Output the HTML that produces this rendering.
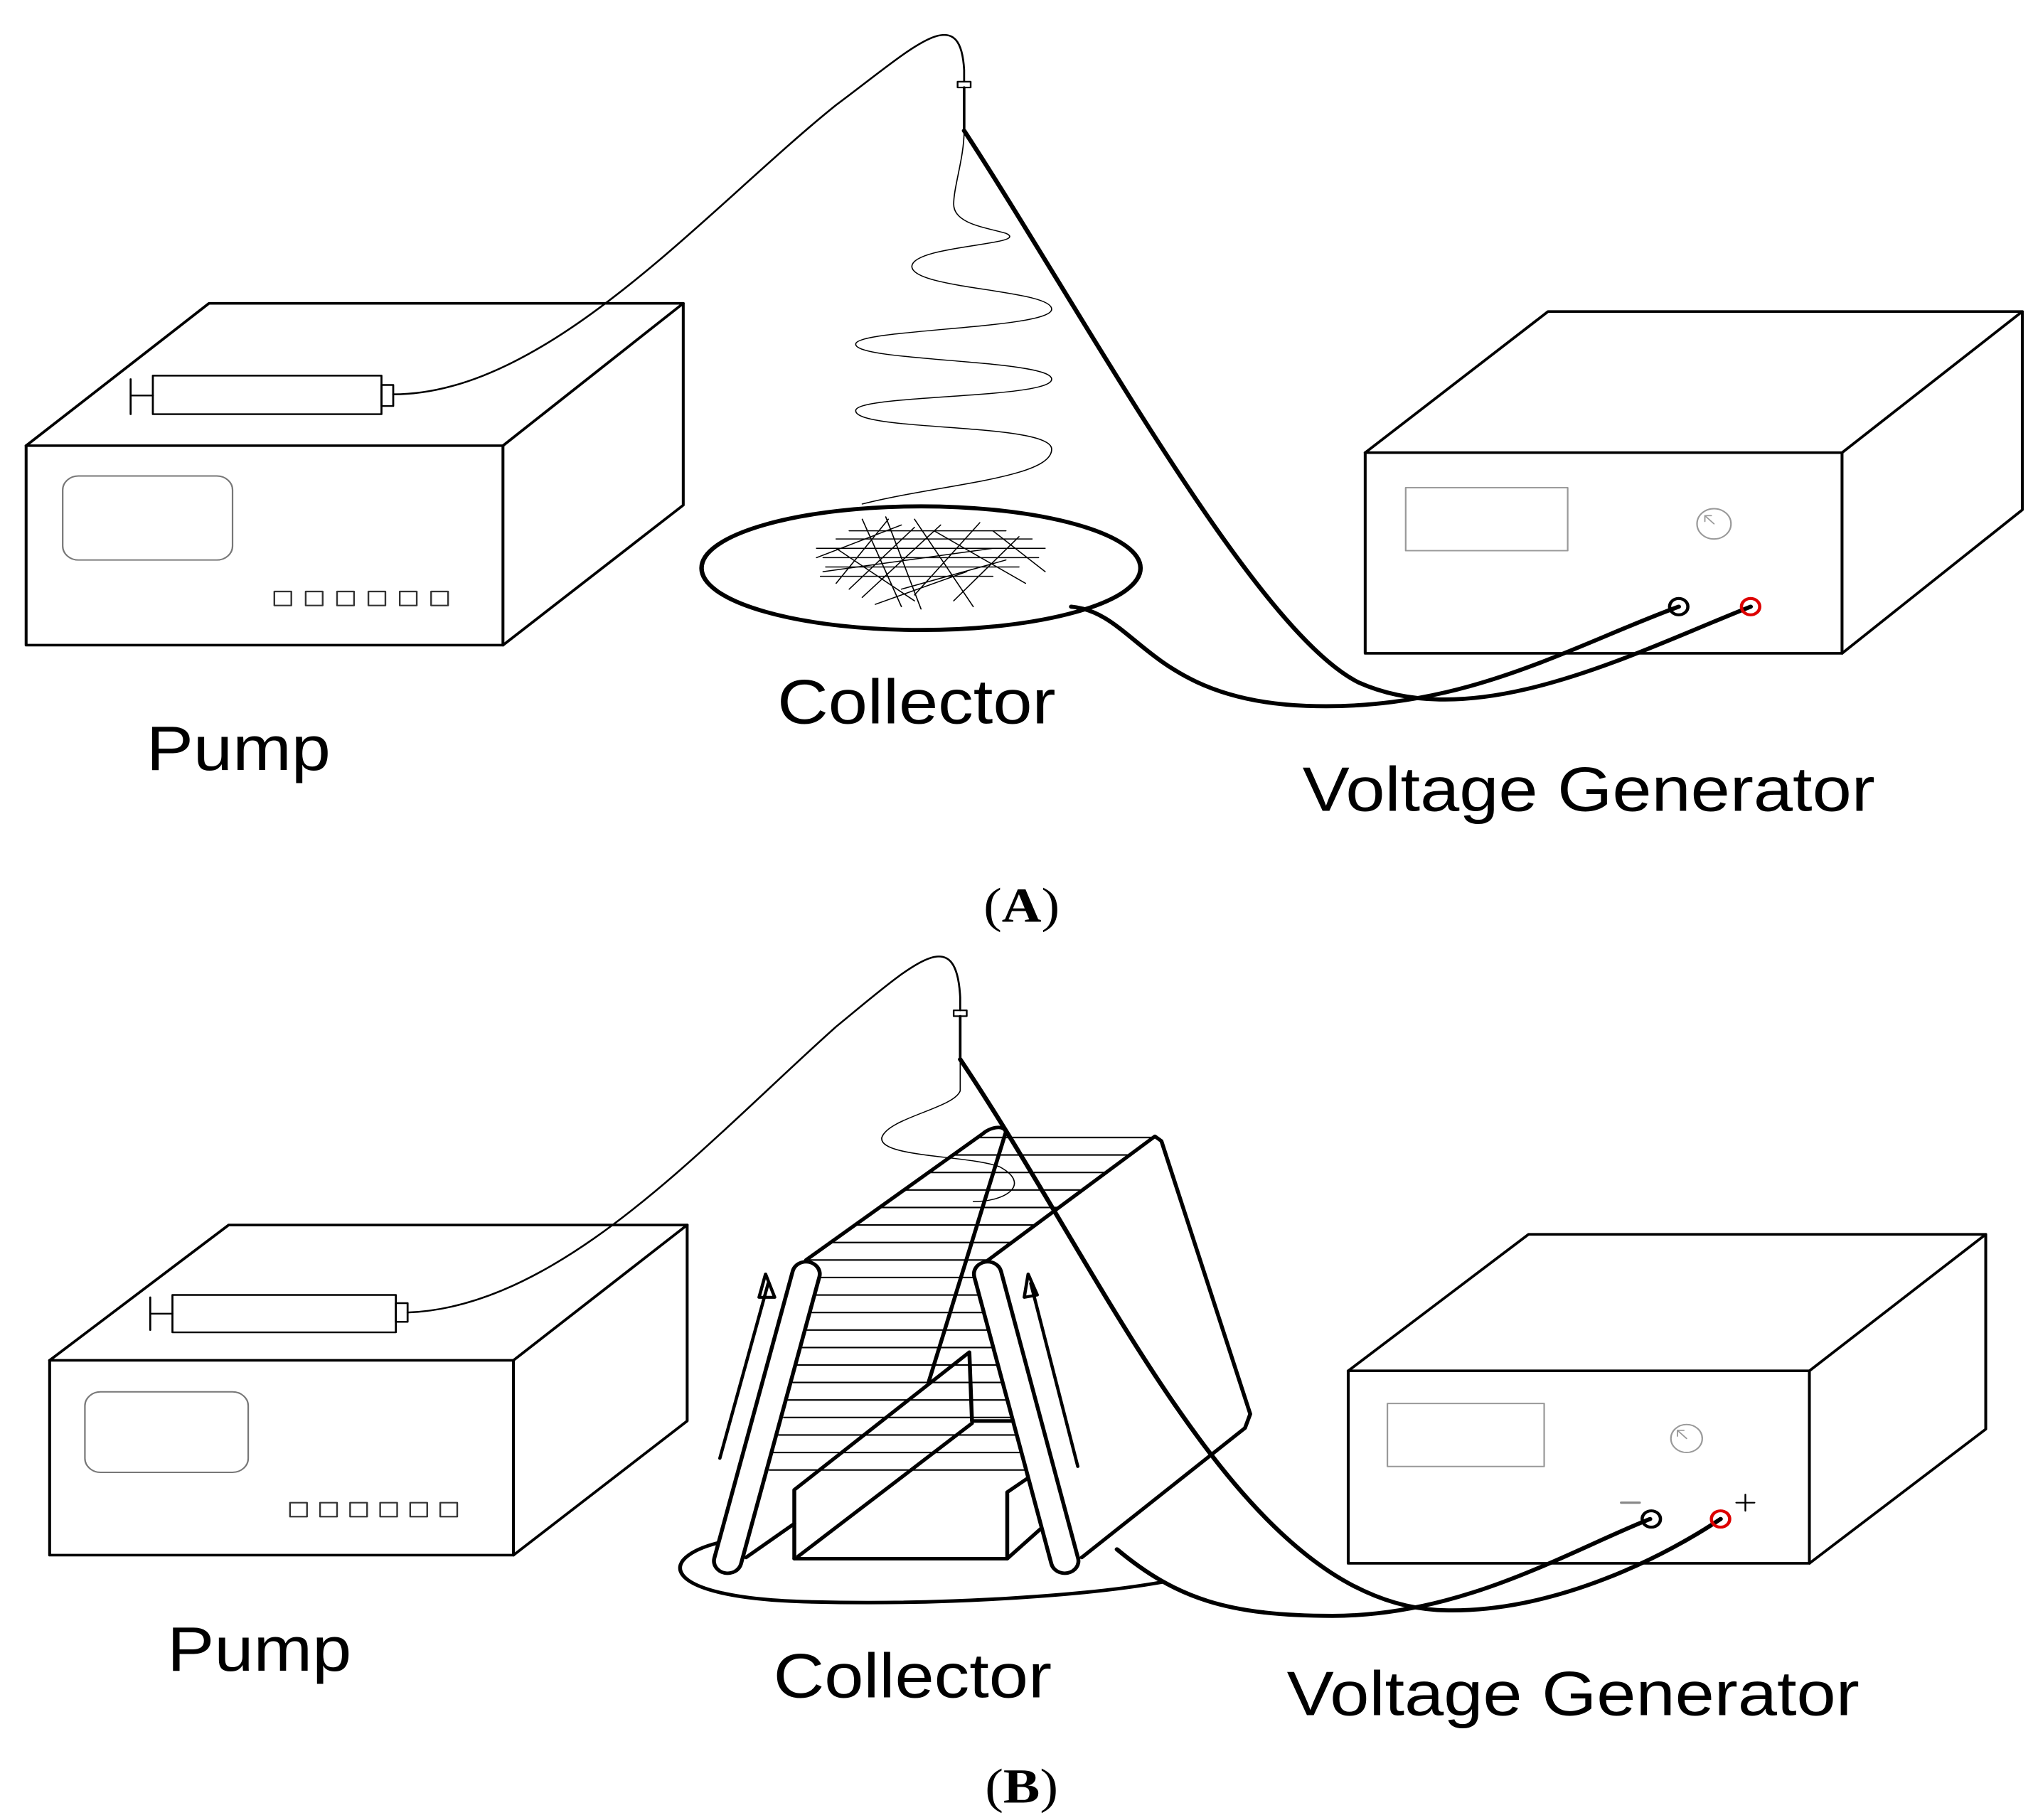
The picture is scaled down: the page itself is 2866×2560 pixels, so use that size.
<!DOCTYPE html>
<html><head><meta charset="utf-8"><style>html,body{margin:0;padding:0;background:#fff}svg{display:block}</style></head>
<body>
<svg width="2866" height="2560" viewBox="0 0 1560 1560" preserveAspectRatio="none" xmlns="http://www.w3.org/2000/svg">
<rect width="1560" height="1560" fill="#fff"/>
<g fill="none" stroke="#000" stroke-linejoin="round" stroke-linecap="round">
<!-- ===== Panel A ===== -->
<!-- Pump A -->
<g stroke-width="2.2">
<rect x="20" y="382" width="365" height="171"/>
<path d="M20,382 L160,260 L523,260 L385,382"/>
<path d="M523,260 L523,433 L385,553"/>
</g>
<rect x="48" y="408" width="130" height="72" rx="12" stroke="#777" stroke-width="1.2"/>
<g stroke="#333" stroke-width="1.3">
<rect x="210" y="507" width="13" height="12"/><rect x="234" y="507" width="13" height="12"/><rect x="258" y="507" width="13" height="12"/><rect x="282" y="507" width="13" height="12"/><rect x="306" y="507" width="13" height="12"/><rect x="330" y="507" width="13" height="12"/>
</g>
<g stroke-width="1.5">
<rect x="117" y="322" width="175" height="33"/>
<path d="M100,339 L117,339 M100,325 L100,355"/>
<rect x="292" y="330" width="9" height="18"/>
</g>
<path d="M301,338 C 420,338 540,180 640,90 C 700,40 735,0 738,60 L738,70" stroke-width="1.5"/>
<rect x="733" y="70" width="10" height="5" stroke-width="1.3"/>
<path d="M738,75 L738,110" stroke-width="2"/>
<path d="M738,112 C 738,135 730,160 730,175 C 730,192 755,195 770,200 C 790,210 700,210 698,228 C 697,248 805,248 805,265 C 805,282 655,282 655,295 C 655,310 805,308 805,325 C 805,342 655,338 655,352 C 655,370 805,362 805,385 C 805,410 720,415 660,432" stroke-width="0.9"/>
<ellipse cx="705" cy="487" rx="168" ry="53" stroke-width="3.5"/>
<g stroke-width="0.9">
<path d="M625,470 L800,470 M630,478 L795,478 M640,462 L790,462 M632,486 L780,486 M628,494 L760,494 M650,455 L770,455"/>
<path d="M660,445 L690,520 M678,443 L705,522 M700,445 L745,520 M640,500 L680,445 M660,512 L720,450 M700,510 L750,448 M730,515 L780,460 M650,505 L700,452 M715,455 L785,500 M640,470 L700,515 M625,478 L690,450 M760,455 L800,490 M690,505 L770,480 M670,518 L740,490 M630,490 L760,470"/>
</g>
<path d="M738,112 C 830,270 960,540 1040,585 C 1130,630 1250,560 1340,520" stroke-width="3.5"/>
<path d="M820,520 C 870,525 880,600 1000,605 C 1120,610 1200,555 1285,520" stroke-width="3.5"/>
<!-- Voltage A -->
<g stroke-width="2.2">
<rect x="1045" y="388" width="365" height="172"/>
<path d="M1045,388 L1185,267 L1548,267 L1410,388"/>
<path d="M1548,267 L1548,437 L1410,560"/>
</g>
<rect x="1076" y="418" width="124" height="54" stroke="#999" stroke-width="1.2"/>
<circle cx="1312" cy="449" r="13" stroke="#999" stroke-width="1.2"/>
<path d="M1305,442 L1312,449 M1305,442 L1305,447 M1305,442 L1310,442" stroke="#999" stroke-width="1"/>
<circle cx="1285" cy="520" r="7" stroke-width="2.5"/>
<circle cx="1340" cy="520" r="7" stroke="#d00" stroke-width="2.5"/>

<!-- ===== Panel B ===== -->
<g stroke-width="2.2">
<rect x="38" y="1166" width="355" height="167"/>
<path d="M38,1166 L175,1050 L526,1050 L393,1166"/>
<path d="M526,1050 L526,1218 L393,1333"/>
</g>
<rect x="65" y="1193" width="125" height="69" rx="12" stroke="#777" stroke-width="1.2"/>
<g stroke="#333" stroke-width="1.3">
<rect x="222" y="1288" width="13" height="12"/><rect x="245" y="1288" width="13" height="12"/><rect x="268" y="1288" width="13" height="12"/><rect x="291" y="1288" width="13" height="12"/><rect x="314" y="1288" width="13" height="12"/><rect x="337" y="1288" width="13" height="12"/>
</g>
<g stroke-width="1.5">
<rect x="132" y="1110" width="171" height="32"/>
<path d="M115,1126 L132,1126 M115,1112 L115,1140"/>
<rect x="303" y="1117" width="9" height="16"/>
</g>
<path d="M312,1125 C 430,1120 540,980 640,880 C 700,825 732,790 735,855 L735,866" stroke-width="1.5"/>
<rect x="730" y="866" width="10" height="5" stroke-width="1.3"/>
<path d="M735,871 L735,908" stroke-width="2"/>
<path d="M735,910 L735,935 C 730,950 680,958 675,975 C 672,992 740,990 765,1000 C 790,1015 770,1030 745,1030" stroke-width="0.9"/>
<!-- flat ellipse -->
<path d="M560,1320 C 500,1332 500,1370 620,1373 C 720,1376 830,1368 890,1356" stroke-width="3"/>
<!-- mesh lines -->
<g stroke-width="1.3">
<path d="M747,975 L883,975 M728,990 L865,990 M710,1005 L847,1005 M692,1020 L829,1020 M674,1035 L811,1035 M656,1050 L793,1050 M638,1065 L774,1065 M620,1080 L756,1080 M628,1095 L746,1095 M624,1110 L750,1110 M621,1125 L753,1125 M617,1140 L757,1140 M614,1155 L760,1155 M610,1170 L764,1170 M607,1185 L767,1185 M603,1200 L771,1200 M600,1215 L774,1215 M596,1230 L778,1230 M592,1245 L782,1245 M589,1260 L785,1260"/>
</g>
<!-- frame -->
<g stroke-width="3">
<path d="M617,1080 L752,972 C 758,966 768,964 770,970 L711,1184"/>
<path d="M748,1087 L884,974 L889,978 L957,1212 L953,1224 L828,1335"/>
<!-- trough -->
<path d="M608,1336 L608,1277 L742,1159 L744,1218 L774,1218"/>
<path d="M608,1336 L771,1336 L771,1279 L788,1266"/>
<path d="M771,1336 L797,1310"/>
<path d="M611,1334 L744,1220"/>
<path d="M608,1306 L571,1335"/>
</g>
<!-- rollers -->
<path d="M617,1092 L557,1338" stroke-width="24"/>
<path d="M617,1092 L557,1338" stroke="#fff" stroke-width="18"/>
<path d="M756,1092 L815,1338" stroke-width="24"/>
<path d="M756,1092 L815,1338" stroke="#fff" stroke-width="18"/>
<!-- arrows -->
<g stroke-width="2.5">
<path d="M551,1250 L588,1100"/>
<path d="M586,1092 L581,1112 L593,1112 Z"/>
<path d="M825,1257 L789,1100"/>
<path d="M787,1092 L784,1112 L794,1110 Z"/>
</g>
<!-- wires B -->
<path d="M735,908 C 850,1100 950,1370 1100,1380 C 1190,1385 1280,1330 1317,1302" stroke-width="3.5"/>
<path d="M855,1328 C 900,1370 940,1385 1020,1385 C 1120,1385 1200,1330 1263,1302" stroke-width="3.5"/>
<!-- Voltage B -->
<g stroke-width="2.2">
<rect x="1032" y="1175" width="353" height="165"/>
<path d="M1032,1175 L1170,1058 L1520,1058 L1385,1175"/>
<path d="M1520,1058 L1520,1225 L1385,1340"/>
</g>
<rect x="1062" y="1203" width="120" height="54" stroke="#999" stroke-width="1.2"/>
<circle cx="1291" cy="1233" r="12" stroke="#999" stroke-width="1.2"/>
<path d="M1284,1226 L1291,1233 M1284,1226 L1284,1231 M1284,1226 L1289,1226" stroke="#999" stroke-width="1"/>
<circle cx="1264" cy="1302" r="7" stroke-width="2.5"/>
<circle cx="1317" cy="1302" r="7" stroke="#d00" stroke-width="2.5"/>
<path d="M1241,1288 L1255,1288" stroke="#888" stroke-width="2"/>
<path d="M1329,1288 L1343,1288 M1336,1281 L1336,1295" stroke-width="1.3"/>
</g>
<g font-family="Liberation Sans, sans-serif" font-size="54" fill="#000">
<text x="595" y="620">Collector</text>
<text x="112" y="660">Pump</text>
<text x="997" y="695">Voltage Generator</text>
<text x="128" y="1432">Pump</text>
<text x="592" y="1455">Collector</text>
<text x="985" y="1470">Voltage Generator</text>
</g>
<g font-family="Liberation Serif, serif" font-size="42" fill="#000" text-anchor="middle">
<text x="782" y="790">(<tspan font-weight="bold">A</tspan>)</text>
<text x="782" y="1545">(<tspan font-weight="bold">B</tspan>)</text>
</g>
</svg>
</body></html>
